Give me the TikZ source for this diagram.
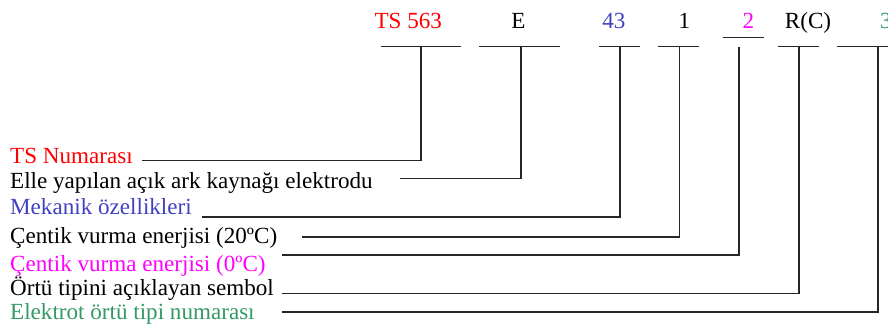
\documentclass[tikz,border=0pt]{standalone}
\usepackage{fontspec}
\setmainfont{Liberation Serif}
\definecolor{tsred}{HTML}{FF0000}
\definecolor{mekblue}{HTML}{4040C0}
\definecolor{cmag}{HTML}{FF00FF}
\definecolor{egreen}{HTML}{339966}
\begin{document}
\begin{tikzpicture}[x=1pt,y=-1pt,
  lbl/.style={anchor=base west,inner sep=0pt,font=\fontsize{23.1}{26}\selectfont},
  code/.style={anchor=base,inner sep=0pt,font=\fontsize{23.1}{26}\selectfont},
  ln/.style={line width=1.6pt,draw=black!85}]
\useasboundingbox (0,0) rectangle (888,326);
% code parts
\node[code,text=tsred] (k1) at (408.3,28.3) {TS 563};
\node[code] (k2) at (518.3,28.3) {E};
\node[code,text=mekblue] (k3) at (613.8,28.3) {43};
\node[code] (k4) at (684.5,28.3) {1};
\node[code,text=cmag] (k5) at (748.5,28.3) {2};
\node[code] (k6) at (808,28.3) {R(C)};
\node[lbl,text=egreen] (k7) at (880,28.3) {3};
% labels
\node[lbl,text=tsred] (a1) at (10,163.3) {TS Numarası};
\node[lbl] (a2) at (10,188.3) {Elle yapılan açık ark kaynağı elektrodu};
\node[lbl,text=mekblue] (a3) at (10,214) {Mekanik özellikleri};
\node[lbl] (a4) at (10,243.3) {Çentik vurma enerjisi (20ºC)};
\node[lbl,text=cmag] (a5) at (10,271.7) {Çentik vurma enerjisi (0ºC)};
\node[lbl] (a6) at (10,295.7) {Örtü tipini açıklayan sembol};
\node[lbl,text=egreen] (a7) at (10,319.3) {Elektrot örtü tipi numarası};
% bars
\coordinate (b1s) at (380.7,46.7); \coordinate (b1e) at (460.7,46.7);
\coordinate (b2s) at (479.3,46.7); \coordinate (b2e) at (559.5,46.7);
\coordinate (b3s) at (599.3,46.7); \coordinate (b3e) at (640,46.7);
\coordinate (b4s) at (658.3,46.7); \coordinate (b4e) at (699.3,46.7);
\coordinate (b5s) at (723.3,37.7); \coordinate (b5e) at (764.3,37.7);
\coordinate (b6s) at (778.3,46.7); \coordinate (b6e) at (819.3,46.7);
\coordinate (b7s) at (837.3,46.7); \coordinate (b7e) at (892,46.7);
\foreach \i in {1,...,7}{\draw[ln] (b\i s) -- (b\i e);}
% vertical tops
\coordinate (t1) at (420.8,46.7);
\coordinate (t2) at (520.7,46.7);
\coordinate (t3) at (619.8,46.7);
\coordinate (t4) at (679.5,46.7);
\coordinate (t5) at (739.2,46.7);
\coordinate (t6) at (798.9,46.7);
\coordinate (t7) at (878.2,46.7);
% line starts
\coordinate (s1) at (142,160.5);
\coordinate (s2) at (400,178.3);
\coordinate (s3) at (202,216.7);
\coordinate (s4) at (302,236.7);
\coordinate (s5) at (282,255);
\coordinate (s6) at (282,293.3);
\coordinate (s7) at (282,311.7);
\foreach \i in {1,...,7}{\draw[ln] (s\i) -| (t\i);}
\end{tikzpicture}
\end{document}
